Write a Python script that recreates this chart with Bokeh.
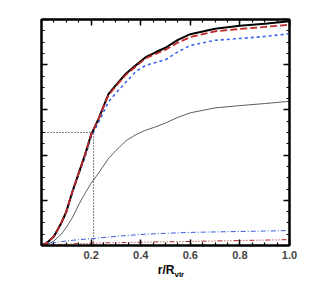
from bokeh.plotting import figure
from bokeh.models import Range1d, FixedTicker, LinearAxis, CustomLabelingPolicy, Div
from bokeh.layouts import column
from bokeh.embed import file_html
from bokeh.resources import INLINE

# radius in units of R_vir
r = [0.0, 0.02, 0.05, 0.08, 0.10, 0.125, 0.15, 0.175, 0.20, 0.23, 0.27, 0.30,
     0.34, 0.38, 0.42, 0.46, 0.50, 0.55, 0.60, 0.70, 0.80, 0.90, 1.00]
total = [0.0, 0.01, 0.04, 0.10, 0.15, 0.24, 0.32, 0.40, 0.49, 0.56, 0.67, 0.71,
         0.76, 0.797, 0.833, 0.855, 0.875, 0.91, 0.935, 0.959, 0.972, 0.981, 0.992]
red_dash = [0.0, 0.01, 0.04, 0.10, 0.15, 0.24, 0.32, 0.40, 0.49, 0.56, 0.665, 0.705,
            0.755, 0.792, 0.828, 0.848, 0.866, 0.898, 0.922, 0.948, 0.958, 0.967, 0.977]
blue_dash = [0.0, 0.01, 0.04, 0.10, 0.145, 0.235, 0.315, 0.39, 0.48, 0.545, 0.635, 0.675,
             0.722, 0.77, 0.797, 0.81, 0.822, 0.857, 0.885, 0.908, 0.916, 0.925, 0.937]
thin = [0.0, 0.002, 0.02, 0.05, 0.08, 0.124, 0.18, 0.23, 0.275, 0.32, 0.385, 0.42,
        0.463, 0.49, 0.51, 0.525, 0.542, 0.567, 0.587, 0.609, 0.619, 0.628, 0.638]
blue_dashdot = [0.0, 0.005, 0.012, 0.017, 0.02, 0.023, 0.026, 0.028, 0.03, 0.033, 0.037, 0.04,
                0.044, 0.047, 0.05, 0.052, 0.054, 0.056, 0.058, 0.06, 0.062, 0.064, 0.066]
red_dashdot = [0.0, 0.001, 0.003, 0.005, 0.006, 0.007, 0.008, 0.009, 0.01, 0.011, 0.012, 0.012,
               0.013, 0.014, 0.015, 0.016, 0.016, 0.017, 0.018, 0.02, 0.022, 0.024, 0.026]

r_half = 0.21
m_half = 0.5

x_ticks = [0.2, 0.4, 0.6, 0.8, 1.0]
x_tick_labels = ["0.2", "0.4", "0.6", "0.8", "1.0"]
y_ticks = [0.2, 0.4, 0.6, 0.8, 1.0]
minor = [i * 0.05 for i in range(21)]

p = figure(width=307, height=262, output_backend="svg", toolbar_location=None,
           x_range=Range1d(0, 1), y_range=Range1d(0, 1),
           min_border_left=41, min_border_right=10, min_border_top=19, min_border_bottom=17,
           x_axis_location=None, y_axis_location=None)
p.grid.visible = False
p.outline_line_color = "black"
p.outline_line_width = 2
p.background_fill_color = "white"
p.border_fill_color = "white"

font = "Liberation Sans"
no_labels = CustomLabelingPolicy(code="for (const i of indices) { indices.unset(i) }\nreturn indices")

def make_axis(side, labels):
    ax = LinearAxis()
    ax.ticker = FixedTicker(ticks=x_ticks if side in ("below", "above") else y_ticks,
                            minor_ticks=minor)
    ax.axis_line_width = 2
    ax.major_tick_in = 6
    ax.major_tick_out = 0
    ax.minor_tick_in = 3
    ax.minor_tick_out = 0
    ax.major_tick_line_width = 1.5
    ax.minor_tick_line_width = 1.2
    if labels:
        ax.major_label_overrides = dict(zip(x_ticks, x_tick_labels))
        ax.major_label_text_font = font
        ax.major_label_text_font_style = "bold"
        ax.major_label_text_font_size = "11px"
        ax.major_label_standoff = 5
    else:
        ax.major_label_policy = no_labels
        ax.major_label_standoff = 0
    p.add_layout(ax, side)

make_axis("below", True)
make_axis("left", False)
make_axis("above", False)
make_axis("right", False)

# dotted half-mass guides
p.line([0, r_half], [m_half, m_half], line_color="black", line_width=1, line_dash="1 2")
p.line([r_half, r_half], [0, m_half], line_color="black", line_width=1, line_dash="1 2")

p.line(r, thin, line_color="#333333", line_width=0.8)
p.line(r, blue_dashdot, line_color="#3a5fe0", line_width=1, line_dash="5 2 1 2")
p.line(r, red_dashdot, line_color="#b82020", line_width=1, line_dash="5 2 1 2 1 2 1 2")
p.line(r, blue_dash, line_color="#3a66ee", line_width=1.6, line_dash="3 3")
p.line(r, total, line_color="black", line_width=2)
p.line(r, red_dash, line_color="#c02828", line_width=1.8, line_dash="7 3")

# axis title r/R_vir
x_title = ('<div style="width:256px;font-family:\'Liberation Sans\';font-weight:bold;font-size:12px;'
           'line-height:12px;text-align:center;color:black;white-space:nowrap;margin-top:-1px;">'
           'r/R<sub style="font-size:8px;line-height:8px;">vir</sub></div>')
title_div = Div(text=x_title, width=256, height=21, margin=(0, 0, 0, 43))

layout = column(p, title_div, spacing=0)
open("out.html", "w").write(file_html(layout, INLINE))
